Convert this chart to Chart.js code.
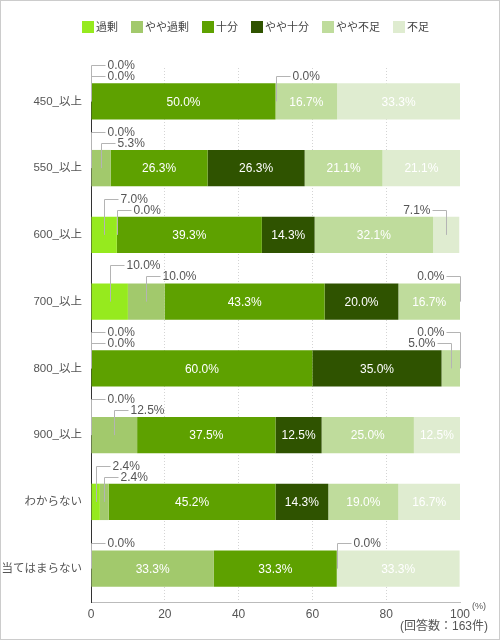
<!DOCTYPE html>
<html>
<head>
<meta charset="utf-8">
<script src="https://cdn.jsdelivr.net/npm/chart.js@4"></script>
<style>
  body { margin: 0; background: #fff; }
  #wrap { width: 500px; height: 640px; position: relative; }
</style>
</head>
<body>
<div id="wrap"><canvas id="myChart"></canvas></div>
<script>
// categories (rows) and the six answer series, values in %
var categories = ['450_以上', '550_以上', '600_以上', '700_以上', '800_以上', '900_以上', 'わからない', '当てはまらない'];
var seriesNames = ['過剰', 'やや過剰', '十分', 'やや十分', 'やや不足', '不足'];
var kajou      = [0.0, 0.0, 7.0, 10.0, 0.0, 0.0, 2.4, 0.0];
var yayaKajou  = [0.0, 5.3, 0.0, 10.0, 0.0, 12.5, 2.4, 33.3];
var juubun     = [50.0, 26.3, 39.3, 43.3, 60.0, 37.5, 45.2, 33.3];
var yayaJuubun = [0.0, 26.3, 14.3, 20.0, 35.0, 12.5, 14.3, 0.0];
var yayaFusoku = [16.7, 21.1, 32.1, 16.7, 5.0, 25.0, 19.0, 0.0];
var fusoku     = [33.3, 21.1, 7.1, 0.0, 0.0, 12.5, 16.7, 33.3];
var xTicks = [0, 20, 40, 60, 80, 100];
var colors = ['#96ea1e', '#a2c96c', '#5ea100', '#2f5300', '#bfdc9c', '#dfecd0'];
var allSeries = [kajou, yayaKajou, juubun, yayaJuubun, yayaFusoku, fusoku];

var FONT = '"Liberation Sans", "Noto Sans CJK JP", sans-serif';
Chart.defaults.font.family = FONT;

function isCallout(ds, v) {
	return v < 8 || (ds < 2 && v < 15);
}

// legend, border, footnote
var decoPlugin = {
	id: 'deco',
	afterDraw: function(chart) {
		var ctx = chart.ctx;
		ctx.save();
		ctx.strokeStyle = '#cccccc';
		ctx.lineWidth = 1;
		ctx.strokeRect(0.5, 0.5, 499, 639);

		ctx.font = '11px ' + FONT;
		ctx.textBaseline = 'middle';
		ctx.textAlign = 'left';
		var x = 82;
		chart.data.datasets.forEach(function(d) {
			ctx.fillStyle = d.backgroundColor;
			ctx.fillRect(x, 21, 12, 12);
			ctx.fillStyle = '#444';
			ctx.fillText(d.label, x + 14, 27.5);
			x += 14 + ctx.measureText(d.label).width + 13;
		});

		ctx.fillStyle = '#555';
		ctx.font = '9px ' + FONT;
		ctx.fillText('(%)', 472, 607);
		ctx.font = '12px ' + FONT;
		ctx.textAlign = 'right';
		ctx.fillText('(回答数：163件)', 488, 627);
		ctx.restore();
	}
};

// value labels: white inside the bar, or gray with a leader line above it
var labelPlugin = {
	id: 'valueLabels',
	afterDatasetsDraw: function(chart) {
		var ctx = chart.ctx;
		var area = chart.chartArea;
		ctx.save();
		ctx.textBaseline = 'middle';
		categories.forEach(function(cat, i) {
			var used = {};
			chart.data.datasets.forEach(function(d, ds) {
				var v = d.data[i];
				var bar = chart.getDatasetMeta(ds).data[i];
				var left = Math.min(bar.x, bar.base), right = Math.max(bar.x, bar.base);
				var cx = (left + right) / 2;
				var txt = v.toFixed(1) + '%';
				if (!isCallout(ds, v)) {
					ctx.font = '12px ' + FONT;
					ctx.fillStyle = '#fff';
					ctx.textAlign = 'center';
					ctx.fillText(txt, cx, bar.y + 1);
					return;
				}
				var level = 2;
				if (ds === 0 && isCallout(1, allSeries[1][i])) level = 1;
				if (ds === 5 && isCallout(4, allSeries[4][i])) level = 1;
				var key = Math.round(cx) + '_' + level;
				if (used[key]) return;
				used[key] = true;
				var top = bar.y - bar.height / 2;
				var ly = Math.round(level === 1 ? top - 18 : top - 7) + 0.5;
				var lx = Math.round(cx) + 0.5;
				var rightSide = (cx - area.left) / (area.right - area.left) > 0.85;
				ctx.strokeStyle = '#b4b4b4';
				ctx.lineWidth = 1;
				ctx.beginPath();
				ctx.moveTo(lx, bar.y);
				ctx.lineTo(lx, ly);
				ctx.lineTo(rightSide ? lx - 14 : lx + 14, ly);
				ctx.stroke();
				ctx.font = '12px ' + FONT;
				ctx.fillStyle = '#555';
				ctx.textAlign = rightSide ? 'right' : 'left';
				ctx.fillText(txt, rightSide ? lx - 16 : lx + 16, ly);
			});
		});
		ctx.restore();
	}
};

var datasets = seriesNames.map(function(name, k) {
	return {
		label: name,
		data: allSeries[k],
		backgroundColor: colors[k],
		borderWidth: 0,
		categoryPercentage: 1,
		barPercentage: 0.545
	};
});

var ctx = document.getElementById('myChart').getContext('2d');
var myChart = new Chart(ctx, {
	type: 'bar',
	data: {
		labels: categories,
		datasets: datasets
	},
	options: {
		indexAxis: 'y',
		responsive: true,
		maintainAspectRatio: false,
		animation: false,
		layout: { padding: { top: 68, right: 40, left: 0, bottom: 0 } },
		plugins: {
			legend: { display: false },
			tooltip: { enabled: false }
		},
		scales: {
			x: {
				stacked: true,
				min: 0,
				max: 100,
				afterFit: function(s) { s.height = 38; },
				afterBuildTicks: function(s) {
					s.ticks = xTicks.map(function(t) { return { value: t }; });
				},
				grid: {
					drawTicks: false,
					color: function(c) {
						var v = c.tick && c.tick.value;
						return (v === 0 || v === 100) ? 'rgba(0,0,0,0)' : '#d4d4d4';
					}
				},
				border: { color: '#bbbbbb', dash: [1, 2] },
				ticks: { color: '#555', font: { size: 12 }, padding: 5 }
			},
			y: {
				stacked: true,
				afterFit: function(s) { s.width = 91; },
				grid: { display: false, drawTicks: false },
				border: { color: '#333333', width: 1 },
				ticks: { color: '#555', font: { size: 11.5 }, padding: 9 }
			}
		}
	},
	plugins: [decoPlugin, labelPlugin]
});
</script>
</body>
</html>
